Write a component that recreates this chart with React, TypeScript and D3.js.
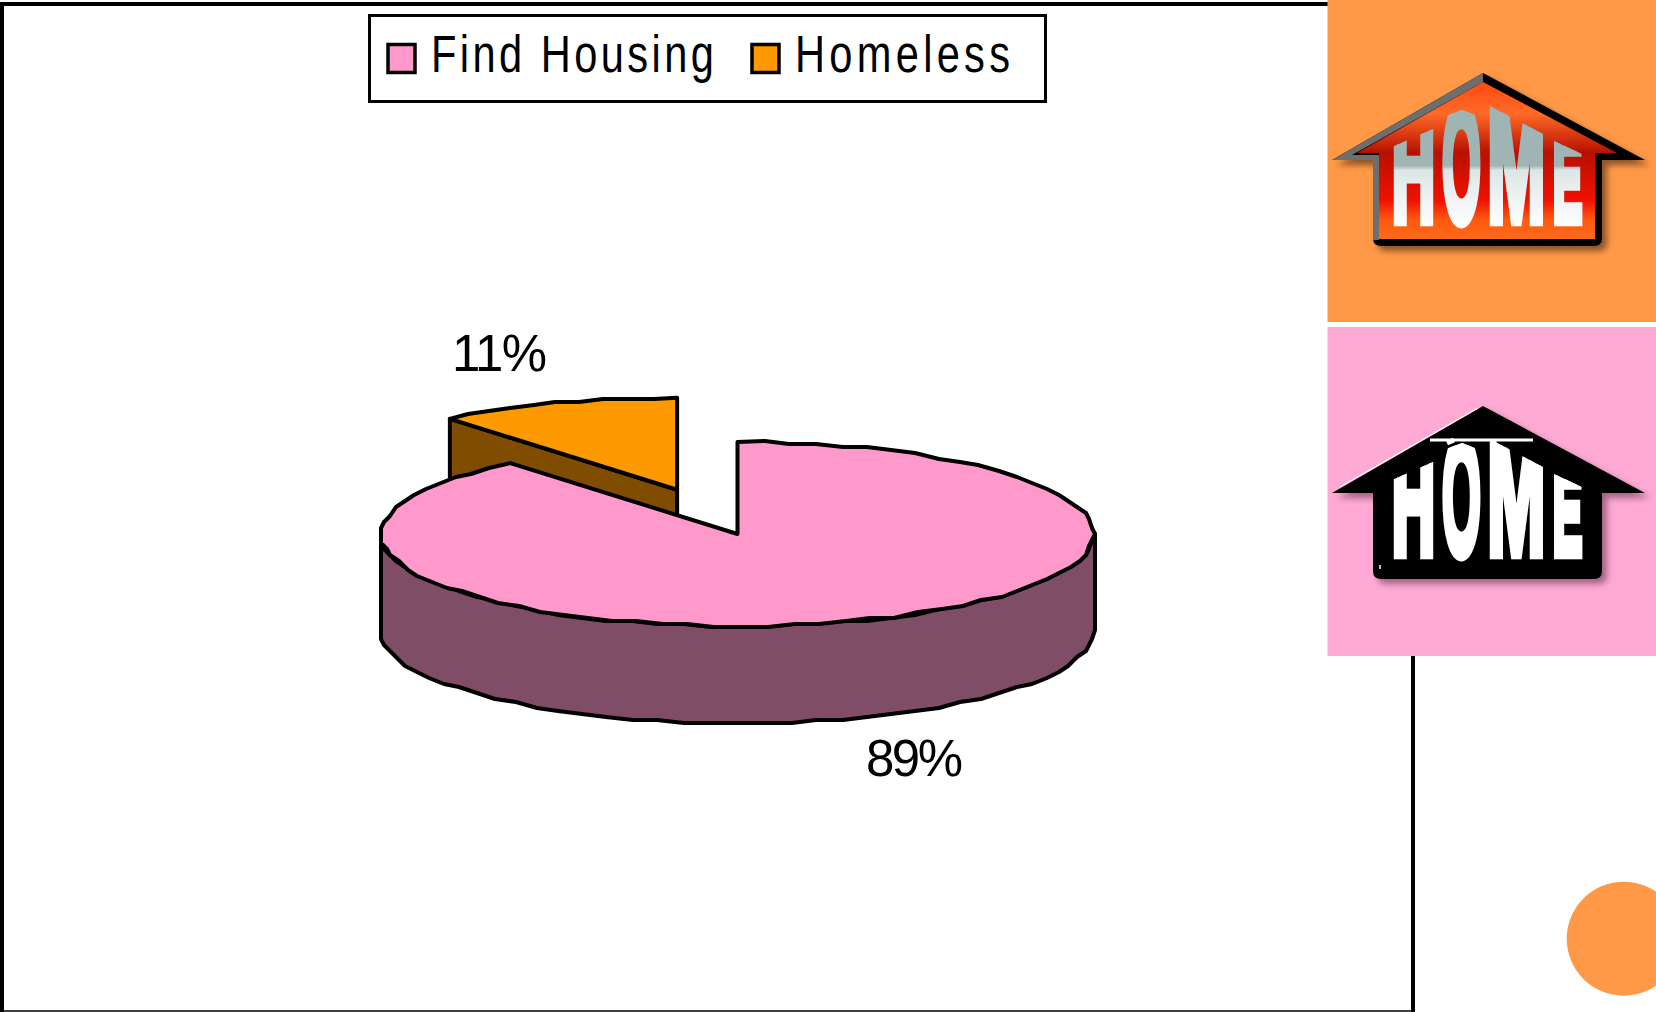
import React from "react";
import * as d3 from "d3";

const categories = ["Find Housing", "Homeless"];
const shares = [89, 11];
const shareLabels = ["89%", "11%"];
const topColors = ["#FF99CC", "#FF9900"];
const sideColors = ["#804D66", "#804D00"];
const explodeFractions = [0, 0.5];

const W = 1656, H = 1012;
const cx = 737.5, cy = 534, rx = 356.5, ry = 92, depth = 97;
const xS = d3.scaleLinear().domain([-1, 1]).range([cx - rx, cx + rx]);
const yS = d3.scaleLinear().domain([-1, 1]).range([cy + ry, cy - ry]);
const arcs = d3.pie<number>().sort(null).value((d) => d).startAngle(0).endAngle(2 * Math.PI)(shares);

type P = [number, number];
const line = d3.line();
const snap = (v: number) => Math.round(v / 3) * 3;
const pt = (a: number, ex: number, ey: number, dy = 0): P => [
  xS(Math.sin(a)) + ex,
  yS(Math.cos(a)) + ey + dy,
];
function arcPts(a0: number, a1: number, ex: number, ey: number, dy = 0, keepEnds = true): P[] {
  const n = Math.max(2, Math.ceil(Math.abs(a1 - a0) / (Math.PI / 42)));
  return d3.range(n + 1).map((i) => {
    const [x, y] = pt(a0 + ((a1 - a0) * i) / n, ex, ey, dy);
    return keepEnds && (i === 0 || i === n) ? ([x, y] as P) : ([snap(x), snap(y)] as P);
  });
}

const Pie3D = () => {
  const pink = arcs[0], orange = arcs[1];
  const mid = (orange.startAngle + orange.endAngle) / 2;
  const ex = xS(Math.sin(mid) * explodeFractions[1]) - cx;
  const ey = yS(Math.cos(mid) * explodeFractions[1]) - cy - 1;
  const oc: P = [cx + ex, cy + ey];
  const oEnd = pt(orange.startAngle, ex, ey);
  const orangeSide: P[] = [oc, oEnd, [oEnd[0], oEnd[1] + depth], [oc[0], oc[1] + depth]];
  const orangeTop: P[] = [oc, ...arcPts(orange.startAngle, orange.endAngle, ex, ey)];
  const sideTop = arcPts(Math.PI / 2, (3 * Math.PI) / 2, 0, 0, 0, false);
  const sideBot = arcPts((3 * Math.PI) / 2, Math.PI / 2, 0, 0, depth, false);
  const pinkTop: P[] = [[cx, cy], ...arcPts(pink.startAngle, pink.endAngle, 0, 0)];
  const common = { stroke: "#000", strokeWidth: 4, strokeLinejoin: "round" as const };
  return (
    <g>
      <path d={line(orangeSide) + "Z"} fill={sideColors[1]} {...common} />
      <path d={line(orangeTop) + "Z"} fill={topColors[1]} {...common} />
      <path d={line([...sideTop, ...sideBot]) + "Z"} fill={sideColors[0]} {...common} />
      <path d={line(pinkTop) + "Z"} fill={topColors[0]} {...common} />
    </g>
  );
};

const roofClip1 = "1392,147 1435,128 1440,118 1462,110 1483,118 1488,105 1545,135 1552,140 1584,155 1584,240 1392,240";
const letters = ["H", "O", "M", "E"];
const letterBoxes = [
  [1392, 1435],
  [1440, 1483],
  [1488, 1545],
  [1552, 1584],
];
const letterTops = [122, 106, 102, 138];
const bearings = [0.067, 0.04, 0.067, 0.067];
const glyphWidths = [0.588, 0.7, 0.7, 0.55];
const sw = 8;

const Letters = ({ id, solid, bottom }: { id: string; solid?: string; bottom: number }) => (
  <g clipPath="url(#roofclip)" fontFamily="'Liberation Sans', Arial, sans-serif" fontWeight="700">
    {letters.map((l, i) => {
      const [x0, x1] = letterBoxes[i];
      const top = letterTops[i];
      const sx = (x1 - x0 - sw) / (glyphWidths[i] * 100);
      const sy = (bottom - sw / 2 - top) / 68.8;
      const gid = `${id}-${l}`;
      const paint = solid ?? `url(#${gid})`;
      const toLocal = (Y: number) => (Y - (bottom - sw / 2)) / sy;
      return (
        <g key={l}>
          {!solid && (
            <linearGradient id={gid} gradientUnits="userSpaceOnUse" x1="0" y1={toLocal(105)} x2="0" y2={toLocal(226)}>
              <stop offset="0" stopColor="#A0B4B4" />
              <stop offset="0.5" stopColor="#A0B4B4" />
              <stop offset="0.54" stopColor="#DCE6E6" />
              <stop offset="1" stopColor="#FFFFFF" />
            </linearGradient>
          )}
          <text
            transform={`translate(${x0 + sw / 2 - bearings[i] * 100 * sx},${bottom - sw / 2}) scale(${sx},${sy})`}
            fontSize={100}
            fill={paint}
            stroke={paint}
            strokeWidth={sw}
            strokeLinejoin="miter"
            style={{ vectorEffect: "non-scaling-stroke" }}
          >
            {l}
          </text>
        </g>
      );
    })}
  </g>
);

const houseOuter = "M1483 73 L1645 160 L1602 160 L1602 238 Q1602 246 1594 246 L1381 246 Q1373 246 1373 238 L1373 160 L1332 160 Z";
const houseInner = "M1483 82 L1617 153 L1595 153 L1595 239 L1379 239 L1379 153 L1357 153 Z";

const Home1 = () => (
  <g>
    <path d={houseOuter} fill="#000" opacity={0.45} transform="translate(5,5)" filter="url(#blur)" />
    <path d={houseOuter} fill="#000" />
    <path d="M1483 73 L1332 160 L1373 160 L1373 240 L1379 240 L1379 155 L1352 155 L1483 82 Z" fill="#6e6e6e" />
    <path d={houseInner} fill="url(#redGrad)" />
    <Letters id="h1" bottom={225} />
  </g>
);

const Home2 = () => (
  <g transform="translate(0,333)">
    <path d={houseOuter} fill="#5a2a45" opacity={0.55} transform="translate(5,5)" filter="url(#blur)" />
    <path d={houseOuter} fill="#000" />
    <path d="M1478 75 L1340 154" stroke="#fff" strokeWidth={1.2} fill="none" />
    <path d="M1430 107 L1533 107" stroke="#fff" strokeWidth={3} fill="none" />
    <path d="M1454 107 L1447 110 M1494 107 L1494 125" stroke="#fff" strokeWidth={5} fill="none" />
    <path d="M1380 232 L1380 236" stroke="#fff" strokeWidth={1.5} fill="none" />
    <Letters id="h2" solid="#fff" bottom={225} />
  </g>
);

const Label = ({ x, y, len, k = 0.8, children }: { x: number; y: number; len: number; k?: number; children: string }) => (
  <text
    transform={`translate(${x},${y}) scale(${k},1)`}
    textLength={len / k}
    lengthAdjust="spacing"
    fontFamily="'Liberation Sans', Arial, sans-serif"
    fontSize={52}
    fill="#000"
  >
    {children}
  </text>
);

export default function App() {
  return (
    <svg
      width={W}
      height={H}
      viewBox={`0 0 ${W} ${H}`}
      style={{ position: "fixed", left: 0, top: 0, background: "#fff", display: "block" }}
    >
      <defs>
        <filter id="blur" x="-10%" y="-10%" width="120%" height="120%">
          <feGaussianBlur stdDeviation="3" />
        </filter>
        <linearGradient id="redGrad" gradientUnits="userSpaceOnUse" x1="0" y1="82" x2="0" y2="239">
          <stop offset="0" stopColor="#FF4A10" />
          <stop offset="0.2" stopColor="#FF6A28" />
          <stop offset="0.45" stopColor="#B81000" />
          <stop offset="0.75" stopColor="#F01000" />
          <stop offset="0.88" stopColor="#FF5A10" />
          <stop offset="1" stopColor="#FF6A18" />
        </linearGradient>
        <clipPath id="roofclip">
          <polygon points={roofClip1} />
        </clipPath>
      </defs>

      <path d="M2 1012 L2 4 L1413 4 L1413 1012" fill="none" stroke="#000" strokeWidth={4} />
      <path d="M0 1011 L1413 1011" fill="none" stroke="#000" strokeWidth={1.5} />

      <g>
        <rect x={369.5} y={15.5} width={676} height={86} fill="#fff" stroke="#000" strokeWidth={3} />
        {categories.map((c, i) => {
          const sx = [388, 752][i];
          const tx = [431, 795][i];
          const tl = [283, 215][i];
          return (
            <g key={c}>
              <rect x={sx} y={44.5} width={27} height={28} fill={topColors[i]} stroke="#000" strokeWidth={3.5} />
              <Label x={tx} y={72} len={tl}>{c}</Label>
            </g>
          );
        })}
      </g>

      <Pie3D />

      <Label x={452} y={371} len={95} k={0.98}>{shareLabels[1]}</Label>
      <Label x={866} y={776} len={97} k={0.98}>{shareLabels[0]}</Label>

      <rect x={1327.5} y={0} width={329} height={322} fill="#FF9947" />
      <rect x={1327.5} y={322} width={329} height={5} fill="#fff" />
      <rect x={1327.5} y={327} width={329} height={329} fill="#FFAAD4" />
      <Home1 />
      <Home2 />
      <circle cx={1623.7} cy={938.7} r={57} fill="#FF9947" />
    </svg>
  );
}
